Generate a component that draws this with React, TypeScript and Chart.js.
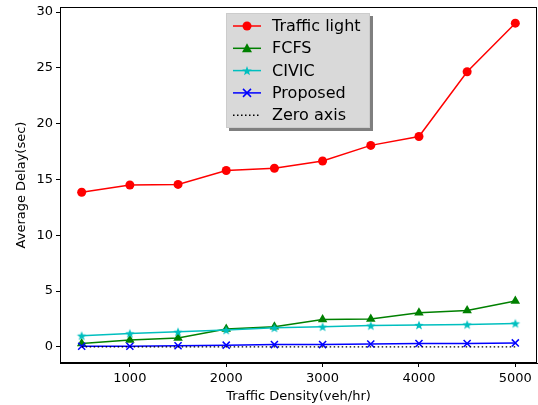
import React, { useEffect, useRef } from "react";
import { Chart, registerables } from "chart.js";
Chart.register(...registerables);

const density = [500, 1000, 1500, 2000, 2500, 3000, 3500, 4000, 4500, 5000];
const trafficLight = [13.85, 14.5, 14.55, 15.8, 16.0, 16.65, 18.05, 18.85, 24.65, 29.0];
const fcfs = [0.3, 0.6, 0.8, 1.6, 1.8, 2.45, 2.5, 3.05, 3.25, 4.1];
const civic = [1.0, 1.2, 1.35, 1.5, 1.7, 1.8, 1.9, 1.95, 2.0, 2.1];
const proposed = [0.05, 0.05, 0.1, 0.15, 0.2, 0.2, 0.25, 0.3, 0.3, 0.35];
const zeroAxis = [0, 0, 0, 0, 0, 0, 0, 0, 0, 0];
const xTicks = [1000, 2000, 3000, 4000, 5000];
const yTicks = [0, 5, 10, 15, 20, 25, 30];

const FONT = "'DejaVu Sans', sans-serif";

function starPath(ctx: CanvasRenderingContext2D, cx: number, cy: number, r: number) {
  const ri = r * 0.42;
  ctx.beginPath();
  for (let i = 0; i < 10; i++) {
    const rr = i % 2 === 0 ? r : ri;
    const a = -Math.PI / 2 + (i * Math.PI) / 5;
    const x = cx + rr * Math.cos(a);
    const y = cy + rr * Math.sin(a);
    if (i === 0) ctx.moveTo(x, y);
    else ctx.lineTo(x, y);
  }
  ctx.closePath();
}

function makeStar(color: string, r: number) {
  const c = document.createElement("canvas");
  const s = Math.ceil(r * 2 + 2);
  c.width = s;
  c.height = s;
  const ctx = c.getContext("2d")!;
  starPath(ctx, s / 2, s / 2 + 0.5, r);
  ctx.fillStyle = color;
  ctx.fill();
  return c;
}

const RED = "#ff0000";
const GREEN = "#008000";
const CYAN = "#00bfbf";
const BLUE = "#0000ff";

const framePlugin = {
  id: "frame",
  afterDatasetsDraw(chart: any) {
    const { ctx, chartArea: a } = chart;
    ctx.save();
    ctx.strokeStyle = "#000";
    ctx.lineWidth = 1;
    ctx.strokeRect(Math.round(a.left) + 0.5, Math.round(a.top) + 0.5, Math.round(a.right - a.left) - 1, Math.round(a.bottom - a.top) - 1);
    ctx.restore();
  },
  afterDraw(chart: any) {
    const { ctx } = chart;
    const bx = 226, by = 13, bw = 144, bh = 115;
    ctx.save();
    ctx.fillStyle = "rgba(0,0,0,0.5)";
    ctx.fillRect(bx + 3, by + 3, bw, bh);
    ctx.fillStyle = "#d9d9d9";
    ctx.fillRect(bx, by, bw, bh);
    ctx.strokeStyle = "#cccccc";
    ctx.lineWidth = 1;
    ctx.strokeRect(bx + 0.5, by + 0.5, bw - 1, bh - 1);
    const items = [
      { label: "Traffic light", color: RED, marker: "circle" },
      { label: "FCFS", color: GREEN, marker: "tri" },
      { label: "CIVIC", color: CYAN, marker: "star" },
      { label: "Proposed", color: BLUE, marker: "x" },
      { label: "Zero axis", color: "#000", marker: "dot" },
    ];
    ctx.font = `16px ${FONT}`;
    ctx.textBaseline = "middle";
    items.forEach((it, i) => {
      const y = by + 13 + i * 22.3;
      const x0 = bx + 7, x1 = bx + 35, xm = (x0 + x1) / 2;
      ctx.strokeStyle = it.color;
      ctx.fillStyle = it.color;
      ctx.lineWidth = 1.5;
      if (it.marker === "dot") ctx.setLineDash([1.5, 2.5]);
      ctx.beginPath();
      ctx.moveTo(x0, y);
      ctx.lineTo(x1, y);
      ctx.stroke();
      ctx.setLineDash([]);
      if (it.marker === "circle") {
        ctx.beginPath();
        ctx.arc(xm, y, 4.5, 0, Math.PI * 2);
        ctx.fill();
      } else if (it.marker === "tri") {
        ctx.beginPath();
        ctx.moveTo(xm, y - 5);
        ctx.lineTo(xm + 5, y + 4);
        ctx.lineTo(xm - 5, y + 4);
        ctx.closePath();
        ctx.fill();
      } else if (it.marker === "star") {
        starPath(ctx, xm, y + 0.5, 5);
        ctx.fill();
      } else if (it.marker === "x") {
        ctx.beginPath();
        ctx.moveTo(xm - 4, y - 4);
        ctx.lineTo(xm + 4, y + 4);
        ctx.moveTo(xm + 4, y - 4);
        ctx.lineTo(xm - 4, y + 4);
        ctx.stroke();
      }
      ctx.fillStyle = "#000";
      ctx.fillText(it.label, bx + 46, y + 1);
    });
    ctx.restore();
  },
};

export default function App() {
  const ref = useRef<HTMLCanvasElement | null>(null);
  useEffect(() => {
    document.body.style.margin = "0";
    const star = makeStar(CYAN, 5);
    const mk = (d: number[]) => d.map((v, i) => ({ x: density[i], y: v }));
    const chart = new Chart(ref.current!, {
      type: "line",
      data: {
        datasets: [
          { label: "Zero axis", data: mk(zeroAxis), borderColor: "#000", borderWidth: 1.2, borderDash: [1.5, 2.5], pointRadius: 0 },
          { label: "Proposed", data: mk(proposed), borderColor: BLUE, backgroundColor: BLUE, borderWidth: 1.5, pointStyle: "crossRot", pointRadius: 5, pointBorderWidth: 1.5 },
          { label: "CIVIC", data: mk(civic), borderColor: CYAN, backgroundColor: CYAN, borderWidth: 1.5, pointStyle: star as any, pointRadius: 5 },
          { label: "FCFS", data: mk(fcfs), borderColor: GREEN, backgroundColor: GREEN, borderWidth: 1.5, pointStyle: "triangle", pointRadius: 5.5, pointBorderWidth: 0 },
          { label: "Traffic light", data: mk(trafficLight), borderColor: RED, backgroundColor: RED, borderWidth: 1.5, pointStyle: "circle", pointRadius: 4.5, pointBorderWidth: 0 },
        ],
      },
      options: {
        animation: false,
        responsive: false,
        maintainAspectRatio: false,
        layout: { autoPadding: false, padding: { top: 7, right: 1, left: 14, bottom: 0 } },
        plugins: { legend: { display: false }, tooltip: { enabled: false } },
        scales: {
          x: {
            type: "linear",
            min: 275,
            max: 5225,
            afterBuildTicks: (s: any) => { s.ticks = xTicks.map((v) => ({ value: v })); },
            afterFit: (s: any) => { s.height = 42; s.paddingLeft = 0; s.paddingRight = 0; },
            grid: { drawOnChartArea: false, drawTicks: true, tickLength: 4, color: "#000", tickWidth: 1 },
            border: { display: true, color: "#000", width: 1 },
            ticks: { color: "#000", font: { family: FONT, size: 13 }, padding: 4, maxRotation: 0, callback: (v: any) => String(v) },
            title: { display: true, text: "Traffic Density(veh/hr)", color: "#000", font: { family: FONT, size: 13 }, padding: { top: 1, bottom: 1 } },
          },
          y: {
            type: "linear",
            min: -1.45,
            max: 30.45,
            afterBuildTicks: (s: any) => { s.ticks = yTicks.map((v) => ({ value: v })); },
            afterFit: (s: any) => { s.width = 46; s.paddingTop = 0; s.paddingBottom = 0; },
            grid: { drawOnChartArea: false, drawTicks: true, tickLength: 4, color: "#000", tickWidth: 1 },
            border: { display: true, color: "#000", width: 1 },
            ticks: { color: "#000", font: { family: FONT, size: 13 }, padding: 3, callback: (v: any) => String(v) },
            title: { display: true, text: "Average Delay(sec)", color: "#000", font: { family: FONT, size: 13 }, padding: { top: 0, bottom: 0 } },
          },
        },
      },
      plugins: [framePlugin],
    } as any);
    return () => chart.destroy();
  }, []);
  return <canvas ref={ref} width={538} height={405} style={{ display: "block", width: 538, height: 405 }} />;
}
